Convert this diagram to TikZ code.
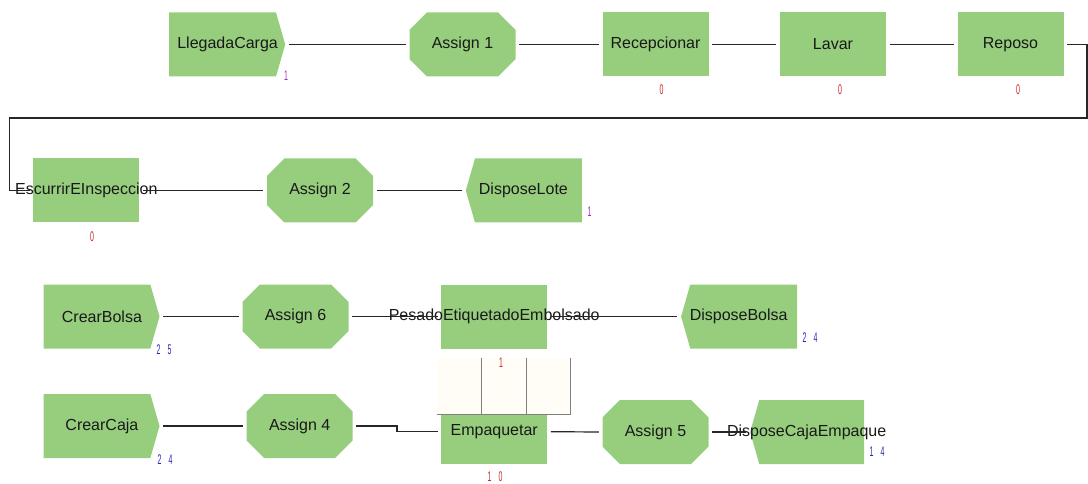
\documentclass[tikz,border=0pt]{standalone}
\usepackage{fontspec}
\setmainfont{Liberation Sans}
\usetikzlibrary{shapes.misc,shapes.symbols,positioning}
\definecolor{modgreen}{RGB}{150,206,125}
\definecolor{cntred}{RGB}{200,40,40}
\definecolor{cntblue}{RGB}{40,40,180}
\definecolor{cntviolet}{RGB}{170,40,190}
\definecolor{queuefill}{RGB}{255,253,245}
\newcommand{\cnt}[1]{\scalebox{0.5}[1]{#1}}
\newcommand{\cntpair}[2]{\cnt{#1}\hspace{7pt}\cnt{#2}}
\newcommand{\toR}[1]{\makebox[0pt]{\hspace{10pt}#1}}
\newcommand{\toL}[1]{\makebox[0pt]{#1\hspace{10pt}}}
\tikzset{
  mod/.style={fill=modgreen, inner sep=0pt, minimum width=106pt, minimum height=64pt, font=\fontsize{16}{18}\selectfont, text=black!90},
  proc/.style={mod, rectangle},
  asgn/.style={mod, chamfered rectangle, chamfered rectangle sep=10pt},
  crea/.style={mod, signal, signal to=east, signal pointer angle=148, minimum width=116pt, anchor=west},
  disp/.style={mod, signal, signal to=west, signal pointer angle=148, minimum width=116pt, anchor=east},
  conn/.style={line width=1.2pt, black!85, shorten <=3.5pt, shorten >=3.5pt},
  count/.style={font=\fontsize{14}{14}\selectfont, inner sep=0pt}
}

\begin{document}
\begin{tikzpicture}[x=1pt,y=-1pt]
	\useasboundingbox (0,0) rectangle (1088,484);
	% modules
	\node[crea] (lleg) at (169,44.5) {\toR{LlegadaCarga}};
	\node[asgn] (as1) at (462.5,44.5) {Assign 1};
	\node[proc] (rec) at (655.5,44.5) {Recepcionar};
	\node[proc] (lav) at (833,44.5) {Lavar};
	\node[proc] (rep) at (1010.5,44.5) {Reposo};

	\node[proc] (esc) at (86.3,190.5) {\makebox[0pt]{EscurrirEInspeccion}};
	\node[asgn] (as2) at (320,190.5) {Assign 2};
	\node[disp] (dlote) at (582,190.5) {\toL{DisposeLote}};

	\node[crea] (cbolsa) at (43.3,316.5) {\toR{CrearBolsa}};
	\node[asgn] (as6) at (295.5,316.5) {Assign 6};
	\node[proc] (pesado) at (494.2,316.5) {\makebox[0pt]{PesadoEtiquetadoEmbolsado}};
	\node[disp] (dbolsa) at (797.3,316.5) {\toL{DisposeBolsa}};

	\node[crea] (ccaja) at (43.3,426) {\toR{CrearCaja}};
	\node[asgn] (as4) at (299.7,426) {Assign 4};
	\node[proc] (emp) at (494.2,431.7) {Empaquetar};
	\node[asgn] (as5) at (655.5,432) {Assign 5};
	\node[disp, minimum width=114pt] (dcaja) at (864.3,432) {\toL{DisposeCajaEmpaque}};

	% queue of the resource
	\node[fill=queuefill, inner sep=0pt, minimum width=133pt, minimum height=55.5pt] (queue) at (503.5,385.8) {};
	\draw[gray] (queue.south west) -- (queue.south east) -- (queue.north east);
	\draw[gray] ([xshift=44pt]queue.north west) -- ([xshift=44pt]queue.south west);
	\draw[gray] ([xshift=89pt]queue.north west) -- ([xshift=89pt]queue.south west);

	% connectors
	\coordinate (ne) at (1087,118);
	\coordinate (nw) at (9.3,118);
	\draw[conn] (lleg.east) -- (as1.west);
	\draw[conn] (as1.east) -- (rec.west);
	\draw[conn] (rec.east) -- (lav.west);
	\draw[conn] (lav.east) -- (rep.west);
	\draw[conn] (rep.east) -| (ne) -- (nw) |- (esc.west);
	\draw[conn] (esc.east) -- (as2.west);
	\draw[conn] (as2.east) -- (dlote.west);
	\draw[conn] (cbolsa.east) -- (as6.west);
	\draw[conn] (as6.east) -- (pesado.west);
	\draw[conn] (pesado.east) -- (dbolsa.west);
	\draw[conn] (ccaja.east) -- (as4.west);
	\draw[conn] (as4.east) -- ++(44,0) |- (emp.west);
	\draw[conn] (emp.east) -- (as5.west);
	\draw[conn] (as5.east) -- (dcaja.west);

	% counters
	\node[count, text=cntviolet] (n1) at (286,76) {\cnt{1}};
	\node[count, text=cntred] (n2) at (661.5,90) {\cnt{0}};
	\node[count, text=cntred] (n3) at (840,90) {\cnt{0}};
	\node[count, text=cntred] (n4) at (1018,90) {\cnt{0}};
	\node[count, text=cntred] (n5) at (92,237) {\cnt{0}};
	\node[count, text=cntviolet] (n6) at (589.5,212) {\cnt{1}};
	\node[count, text=cntblue] (n7) at (164,350) {\cntpair{2}{5}};
	\node[count, text=cntblue] (n8) at (810,338) {\cntpair{2}{4}};
	\node[count, text=cntred] (n9) at (501,363) {\cnt{1}};
	\node[count, text=cntblue] (n10) at (165,460) {\cntpair{2}{4}};
	\node[count, text=cntred] (n11) at (495,477) {\cntpair{1}{0}};
	\node[count, text=cntblue] (n12) at (877,452) {\cntpair{1}{4}};
\end{tikzpicture}
\end{document}
